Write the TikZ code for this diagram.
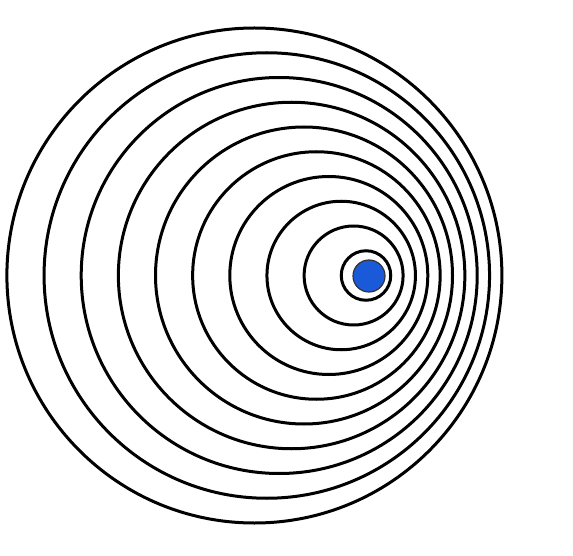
\documentclass[tikz,border=0pt]{standalone}
\definecolor{dotblue}{HTML}{1A5AD8}
\begin{document}
\begin{tikzpicture}[x=1pt, y=-1pt]
        % Fix the page size
        \useasboundingbox (0,0) rectangle (573,556);

        % Wave fronts, each one shifted to the left of the one before
        \foreach \k in {1,...,10}
          \draw[black, line width=3pt] ({366-12.4*(\k-1)},275.5) circle ({24.75*\k});

        % Blue dot for the source
        \filldraw[fill=dotblue, draw=black!80, line width=1.2pt] (369,276) circle (16);
      \end{tikzpicture}
\end{document}
